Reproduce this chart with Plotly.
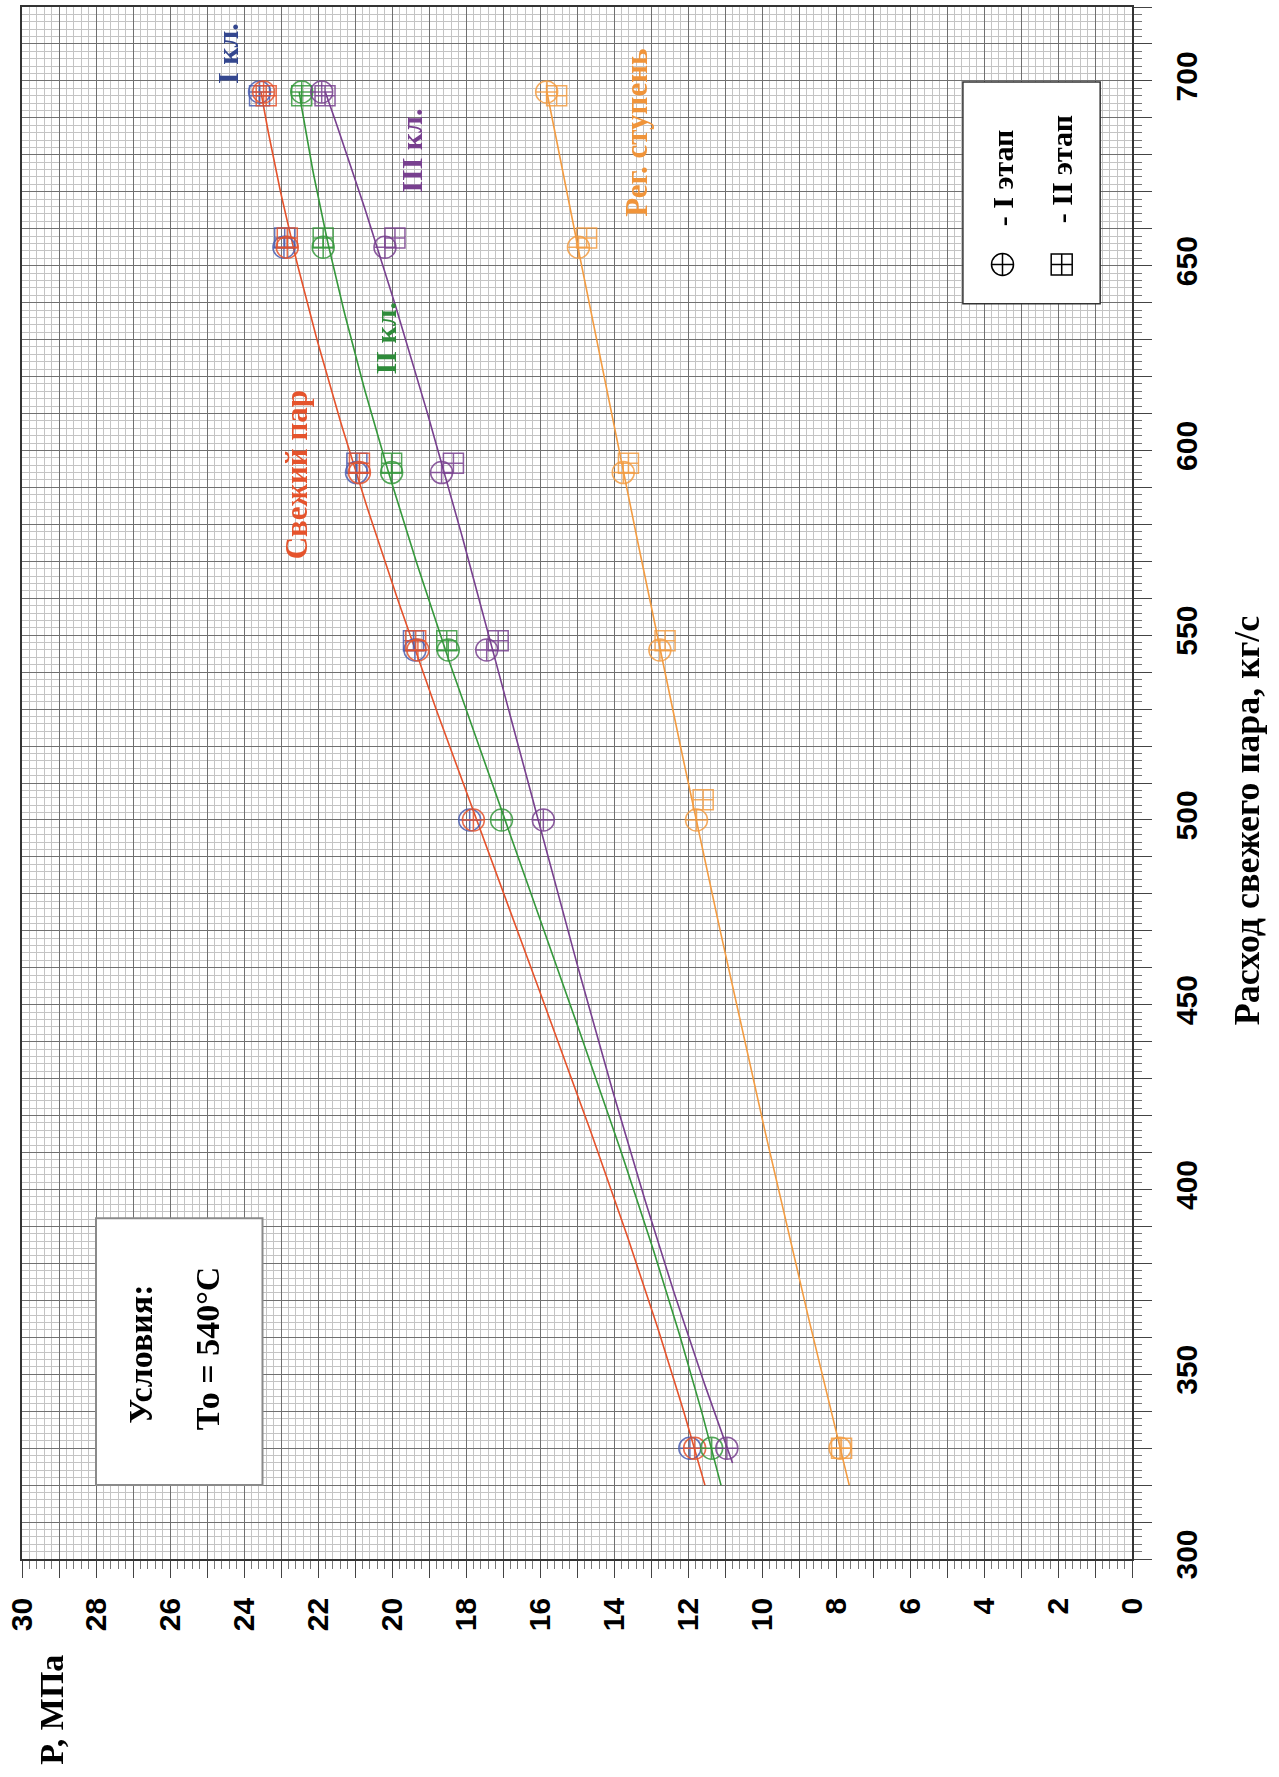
import numpy as np
import plotly.graph_objects as go

# Fresh-steam flow at the test points, kg/s
flow = [330, 500, 546, 594, 655, 697]
# Flow at the stage-II points (squares)
flow_2 = [548.5, 596.5, 657.5, 696]
flow_reg_2 = [330, 505.5, 548.5, 596.5, 657.5, 696]

# Pressures, MPa, stage I (circles)
p_fresh_1 = [11.82, 17.80, 19.30, 20.88, 22.83, 23.47]
p_kl1_1 = [11.95, 17.90, 19.38, 20.96, 22.92, 23.58]
p_kl2_1 = [11.36, 17.04, 18.48, 20.01, 21.86, 22.44]
p_kl3_1 = [10.95, 15.91, 17.44, 18.66, 20.19, 21.90]
p_reg_1 = [7.89, 11.77, 12.76, 13.75, 14.96, 15.82]

# Pressures, MPa, stage II (squares)
p_fresh_2 = [19.36, 20.88, 22.83, 23.40]
p_kl1_2 = [19.42, 20.95, 22.90, 23.58]
p_kl2_2 = [18.52, 20.01, 21.86, 22.44]
p_kl3_2 = [17.13, 18.34, 19.92, 21.81]
p_reg_2 = [7.85, 11.59, 12.62, 13.61, 14.74, 15.55]

# Trend lines start slightly below the lowest test flow
trend_from = 320
trend_from_kl3 = 326

# Axis ticks
p_ticks = list(range(0, 31))
p_ticktext = [str(v) if v % 2 == 0 else "" for v in p_ticks]
flow_ticks = list(range(300, 721, 10))
flow_ticktext = [str(v) if v % 50 == 0 else "" for v in flow_ticks]

RED = "#e5532c"
BLUE = "#4a5db0"
GREEN = "#35983b"
PURPLE = "#78408f"
ORANGE = "#f39c42"

fig = go.Figure()


def trend(p, color, start=trend_from):
    coef = np.polyfit(flow, p, 3)
    f = np.linspace(start, flow[-1], 200)
    fig.add_trace(go.Scatter(x=np.polyval(coef, f), y=f, mode="lines",
                             line=dict(color=color, width=1.6), hoverinfo="skip"))


def points(p, f, color, symbol, size, opacity=0.85):
    fig.add_trace(go.Scatter(x=p, y=f, mode="markers",
                             marker=dict(symbol=symbol, size=size, color=color,
                                         line=dict(color=color, width=1.5)),
                             opacity=opacity))


trend(p_fresh_1, RED)
trend(p_kl2_1, GREEN)
trend(p_kl3_1, PURPLE, trend_from_kl3)
trend(p_reg_1, ORANGE)

for p1, p2, f2, c in [
    (p_kl1_1, p_kl1_2, flow_2, BLUE),
    (p_fresh_1, p_fresh_2, flow_2, RED),
    (p_kl2_1, p_kl2_2, flow_2, GREEN),
    (p_kl3_1, p_kl3_2, flow_2, PURPLE),
    (p_reg_1, p_reg_2, flow_reg_2, ORANGE),
]:
    points(p1, flow, c, "circle-cross-open", 22)
    points(p2, f2, c, "square-cross-open", 20)

# Marker key symbols
points([3.5], [650.3], "black", "circle-cross-open", 22, 1.0)
points([1.9], [650.3], "black", "square-cross-open", 21, 1.0)

tickfont = dict(family="Liberation Sans, Arial", size=30, color="black", weight="bold")
serif = "Liberation Serif, Times New Roman"

fig.update_layout(
    width=1279, height=1777,
    margin=dict(l=22, r=147, t=5, b=218),
    showlegend=False,
    plot_bgcolor="white", paper_bgcolor="white",
    xaxis=dict(
        range=[30, 0], tickmode="array", tickvals=p_ticks, ticktext=p_ticktext,
        tickangle=-90, ticks="outside", ticklen=17, tickwidth=1.2, tickcolor="#444",
        showgrid=True, gridcolor="#707070", gridwidth=1,
        minor=dict(tickmode="linear", tick0=0, dtick=0.2, ticks="outside", ticklen=8,
                   tickcolor="#777", showgrid=True, gridcolor="#c4c4c4", gridwidth=1),
        showline=True, mirror=True, linecolor="#333", linewidth=1.5, zeroline=False,
        tickfont=tickfont, ticklabelstandoff=8,
    ),
    yaxis=dict(
        range=[300, 720], side="right", tickmode="array", tickvals=flow_ticks,
        ticktext=flow_ticktext, tickangle=-90, ticks="outside", ticklen=18, tickwidth=1.2,
        tickcolor="#444", showgrid=True, gridcolor="#707070", gridwidth=1,
        minor=dict(tickmode="linear", tick0=300, dtick=2, ticks="outside", ticklen=8,
                   tickcolor="#777", showgrid=True, gridcolor="#c4c4c4", gridwidth=1),
        showline=True, mirror=True, linecolor="#333", linewidth=1.5, zeroline=False,
        tickfont=tickfont, ticklabelstandoff=9,
    ),
)

# Boxes: conditions and marker key (over the grid, under the traces)
fig.add_shape(type="rect", xref="x", yref="y", x0=28.0, x1=23.5, y0=320, y1=392.2,
              fillcolor="white", line=dict(color="#8a8a8a", width=2), layer="between")
fig.add_shape(type="rect", xref="x", yref="y", x0=4.57, x1=0.86, y0=639.7, y1=699.7,
              fillcolor="white", line=dict(color="#333", width=1.5), layer="between")


def label(x, y, text, color, size=30, xref="x", yref="y", family=serif):
    fig.add_annotation(x=x, y=y, xref=xref, yref=yref, text=text, showarrow=False,
                       textangle=-90, xanchor="center", yanchor="middle",
                       font=dict(family=family, size=size, color=color, weight="bold"))


label(26.8, 355.4, "Условия:", "black", 34)
label(25.0, 357.0, "То = 540°С", "black", 34)
label(3.5, 673.8, "- I этап", "black", 30)
label(1.9, 676.0, "- II этап", "black", 30)

label(24.43, 707.3, "I кл.", "#34478f", 30)
label(19.46, 681.1, "III кл.", PURPLE, 30)
label(20.19, 630.3, "II кл.", "#2e8b3a", 30)
label(22.57, 593.5, "Свежий пар", RED, 31)
label(13.41, 685.9, "Рег. ступень", "#f0943a", 31)

# Axis titles
label(0.027, -0.0972, "P, МПа", "black", 34, xref="paper", yref="paper")
label(1.1036, 0.476, "Расход свежего пара, кг/с", "black", 36, xref="paper", yref="paper")

fig.write_html("out.html")
